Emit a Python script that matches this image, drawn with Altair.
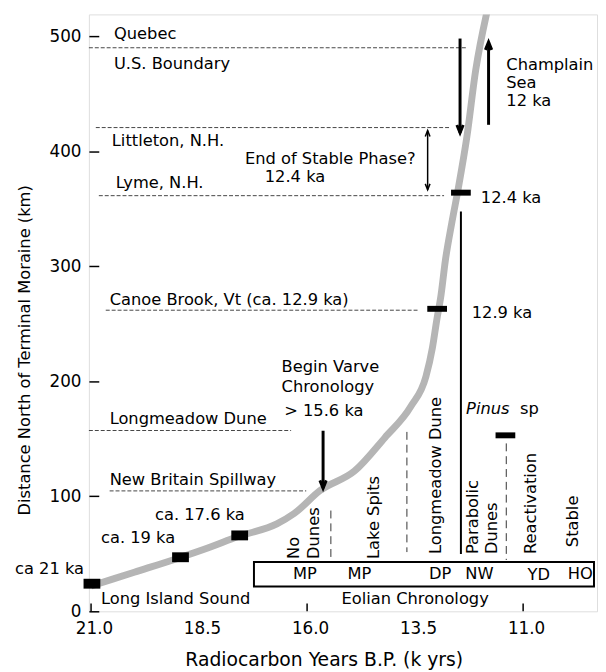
import altair as alt
import pandas as pd

FONT = "DejaVu Sans"
FS = 16.5

# ---- data ----
curve_x = [21.0, 20.0, 19.0, 18.3, 17.6, 16.7, 16.3, 15.7, 14.9, 14.2, 13.6, 13.25, 13.1, 13.0, 12.9, 12.8, 12.65, 12.5, 12.3, 12.1, 11.85, 11.75]
curve_y = [22, 34, 46, 55, 65, 76, 85, 105, 122, 151, 178, 204, 229, 253, 275, 305, 338, 368, 413, 470, 519, 535]

box_big_x = [20.98, 18.93, 17.56]
box_big_y = [24, 47, 66]
box_small_x = [12.99, 12.44, 11.41]
box_small_y = [263, 364, 153]

hline_y = [490, 420.6, 361.4, 261.8, 157.2, 104.7]
hline_x1 = [21.05, 20.89, 20.82, 20.66, 21.05, 20.57]
hline_x2 = [12.30, 12.67, 12.83, 13.40, 16.37, 16.02]

label_text = ["Quebec", "U.S. Boundary", "Littleton, N.H.", "Lyme, N.H.",
              "Canoe Brook, Vt (ca. 12.9 ka)", "Longmeadow Dune", "New Britain Spillway",
              "ca. 17.6 ka", "ca. 19 ka", "ca 21 ka", "Long Island Sound",
              "12.4 ka", "12.9 ka", "Champlain", "Sea", "12 ka",
              "Begin Varve", "Chronology", "> 15.6 ka",
              "End of Stable Phase?", "12.4 ka", "sp"]
label_x = [20.47, 20.47, 20.52, 20.43, 20.57, 20.57, 20.57, 19.52, 20.77, 22.76, 20.77,
           11.98, 12.19, 11.39, 11.39, 11.39, 16.59, 16.59, 16.53, 17.44, 16.98, 11.07]
label_y = [502, 476, 409, 372.5, 271, 167, 114, 84, 64, 37, 10.3,
           359, 259, 474.7, 459, 443.8, 212, 194.8, 174.2, 393, 377.7, 176]

italic_text = ["Pinus"]
italic_x = [12.32]
italic_y = [176]

rot_text = ["No", "Dunes", "Lake Spits", "Longmeadow Dune", "Parabolic", "Dunes", "Reactivation", "Stable"]
rot_x = [16.30, 15.84, 14.45, 13.02, 12.17, 11.71, 10.82, 9.84]
rot_y = [45.5, 45.5, 45.5, 49.8, 49.8, 49.8, 49.8, 55.8]

code_text = ["MP", "MP", "DP", "NW", "YD", "HO"]
code_x = [16.05, 14.79, 12.92, 12.01, 10.64, 9.68]
code_y = [32.6, 32.6, 32.6, 32.6, 31.5, 32.6]

eol_text = ["Eolian Chronology"]
eol_x = [13.5]
eol_y = [10.3]

frame_x1 = [17.23]
frame_x2 = [9.36]
frame_y1 = [42.9]
frame_y2 = [21.5]

solid_vx = [12.44]
solid_vy1 = [347.6]
solid_vy2 = [49.8]

dash_vx = [15.45, 13.69, 11.39]
dash_vy1 = [87.6, 156, 146]
dash_vy2 = [45.5, 51.5, 44.6]

thick_ax = [12.46, 11.80, 15.63]
thick_ay1 = [498, 423, 157]
thick_ay2 = [416, 495, 107]

thin_ax = [13.21]
thin_ay1 = [418]
thin_ay2 = [366.5]

head_down_x = [12.46, 15.63]
head_down_y = [416, 107]
head_up_x = [11.80]
head_up_y = [495]
thin_head_down_x = [13.21]
thin_head_down_y = [366.5]
thin_head_up_x = [13.21]
thin_head_up_y = [418]

xtick_vals = [21.0, 18.5, 16.0, 13.5, 11.0]
xtick_marks = [21.0, 16.0, 11.0]
ytick_vals = [0, 100, 200, 300, 400, 500]

# ---- scales / axes ----
xs = alt.Scale(domain=[9.29, 21.05], reverse=True, nice=False, zero=False)
ys = alt.Scale(domain=[0, 519], nice=False, zero=False)
xaxis = alt.Axis(values=xtick_vals, format=".1f", ticks=False, domain=False, grid=False,
                 labelPadding=10, labelOffset=3, labelFontSize=17, labelFont=FONT,
                 title="Radiocarbon Years B.P. (k yrs)", titleFont=FONT, titleFontSize=19,
                 titleFontWeight="normal", titleX=238, titleY=49, titleBaseline="middle",
                 titleAlign="center", labelColor="black", titleColor="black")
yaxis = alt.Axis(values=ytick_vals, ticks=True, tickSize=10, tickColor="black", tickWidth=1.5,
                 offset=-10, domain=False, grid=False, labelPadding=8, labelFontSize=17,
                 labelFont=FONT, title="Distance North of Terminal Moraine (km)", titleFont=FONT,
                 titleFontSize=16.5, titleFontWeight="normal", titleX=-75, titleY=340,
                 titleBaseline="middle", titleAlign="center", titleAngle=270,
                 labelColor="black", titleColor="black")


def X(f):
    return alt.X(f, type="quantitative", scale=xs, axis=xaxis)


def Y(f):
    return alt.Y(f, type="quantitative", scale=ys, axis=yaxis)


curve_df = pd.DataFrame({"x": curve_x, "y": curve_y, "i": range(len(curve_x))})
curve = alt.Chart(curve_df).mark_line(color="#b5b5b5", strokeWidth=7, clip=True,
                                      interpolate="monotone").encode(
    x=X("x"), y=Y("y"), order="i:Q")

big_boxes = alt.Chart(pd.DataFrame({"x": box_big_x, "y": box_big_y})).mark_tick(
    orient="horizontal", size=17, thickness=10, color="black", opacity=1).encode(x=X("x"), y=Y("y"))
small_boxes = alt.Chart(pd.DataFrame({"x": box_small_x, "y": box_small_y})).mark_tick(
    orient="horizontal", size=20, thickness=6, color="black", opacity=1).encode(x=X("x"), y=Y("y"))

hlines = alt.Chart(pd.DataFrame({"y": hline_y, "x1": hline_x1, "x2": hline_x2})).mark_rule(
    color="#444", strokeWidth=1, strokeDash=[4, 2]).encode(x=X("x1"), x2="x2", y=Y("y"))

labels = alt.Chart(pd.DataFrame({"t": label_text, "x": label_x, "y": label_y})).mark_text(
    align="left", baseline="middle", font=FONT, fontSize=FS, color="black").encode(
    x=X("x"), y=Y("y"), text="t")

italics = alt.Chart(pd.DataFrame({"t": italic_text, "x": italic_x, "y": italic_y})).mark_text(
    align="left", baseline="middle", font=FONT, fontSize=FS, fontStyle="italic", color="black").encode(
    x=X("x"), y=Y("y"), text="t")

rot = alt.Chart(pd.DataFrame({"t": rot_text, "x": rot_x, "y": rot_y})).mark_text(
    align="left", baseline="middle", angle=270, font=FONT, fontSize=FS, color="black").encode(
    x=X("x"), y=Y("y"), text="t")

codes = alt.Chart(pd.DataFrame({"t": code_text, "x": code_x, "y": code_y})).mark_text(
    align="center", baseline="middle", font=FONT, fontSize=FS, color="black").encode(
    x=X("x"), y=Y("y"), text="t")

eol = alt.Chart(pd.DataFrame({"t": eol_text, "x": eol_x, "y": eol_y})).mark_text(
    align="center", baseline="middle", font=FONT, fontSize=FS, color="black").encode(
    x=X("x"), y=Y("y"), text="t")

frame = alt.Chart(pd.DataFrame({"x1": frame_x1, "x2": frame_x2, "y1": frame_y1, "y2": frame_y2})).mark_rect(
    fill="white", fillOpacity=0, stroke="black", strokeWidth=2).encode(
    x=X("x1"), x2="x2", y=Y("y1"), y2="y2")

solid_v = alt.Chart(pd.DataFrame({"x": solid_vx, "y1": solid_vy1, "y2": solid_vy2})).mark_rule(
    color="black", strokeWidth=2).encode(x=X("x"), y=Y("y1"), y2="y2")

dash_v = alt.Chart(pd.DataFrame({"x": dash_vx, "y1": dash_vy1, "y2": dash_vy2})).mark_rule(
    color="#333", strokeWidth=1, strokeDash=[8, 5]).encode(x=X("x"), y=Y("y1"), y2="y2")

thick_arrows = alt.Chart(pd.DataFrame({"x": thick_ax, "y1": thick_ay1, "y2": thick_ay2})).mark_rule(
    color="black", strokeWidth=3).encode(x=X("x"), y=Y("y1"), y2="y2")
thin_arrows = alt.Chart(pd.DataFrame({"x": thin_ax, "y1": thin_ay1, "y2": thin_ay2})).mark_rule(
    color="black", strokeWidth=1.5).encode(x=X("x"), y=Y("y1"), y2="y2")

DOWN = "M-0.8,-2L0,0L0.8,-2"
UP = "M-0.8,2L0,0L0.8,2"
heads_down = alt.Chart(pd.DataFrame({"x": head_down_x, "y": head_down_y})).mark_point(
    shape=DOWN, size=64, filled=False, stroke="black", strokeWidth=3, opacity=1).encode(x=X("x"), y=Y("y"))
heads_up = alt.Chart(pd.DataFrame({"x": head_up_x, "y": head_up_y})).mark_point(
    shape=UP, size=64, filled=False, stroke="black", strokeWidth=3, opacity=1).encode(x=X("x"), y=Y("y"))
thin_down = alt.Chart(pd.DataFrame({"x": thin_head_down_x, "y": thin_head_down_y})).mark_point(
    shape=DOWN, size=36, filled=False, stroke="black", strokeWidth=1.5, opacity=1).encode(x=X("x"), y=Y("y"))
thin_up = alt.Chart(pd.DataFrame({"x": thin_head_up_x, "y": thin_head_up_y})).mark_point(
    shape=UP, size=36, filled=False, stroke="black", strokeWidth=1.5, opacity=1).encode(x=X("x"), y=Y("y"))

xticks = alt.Chart(pd.DataFrame({"x": xtick_marks, "y": [0] * len(xtick_marks)})).mark_tick(
    orient="vertical", size=16, thickness=1.5, color="black", opacity=1, clip=True).encode(x=X("x"), y=Y("y"))

chart = alt.layer(
    curve, hlines, dash_v, solid_v, frame, big_boxes, small_boxes,
    thick_arrows, thin_arrows, heads_down, heads_up, thin_down, thin_up,
    labels, italics, rot, codes, eol, xticks
).properties(
    width=515, height=605,
    autosize=alt.AutoSizeParams(type="none"),
    padding={"left": 82, "top": 2, "right": 1, "bottom": 55},
).configure_view(stroke="black", strokeWidth=2).configure(background="white")

chart.save("out.html", embed_options={"renderer": "svg", "actions": False})
